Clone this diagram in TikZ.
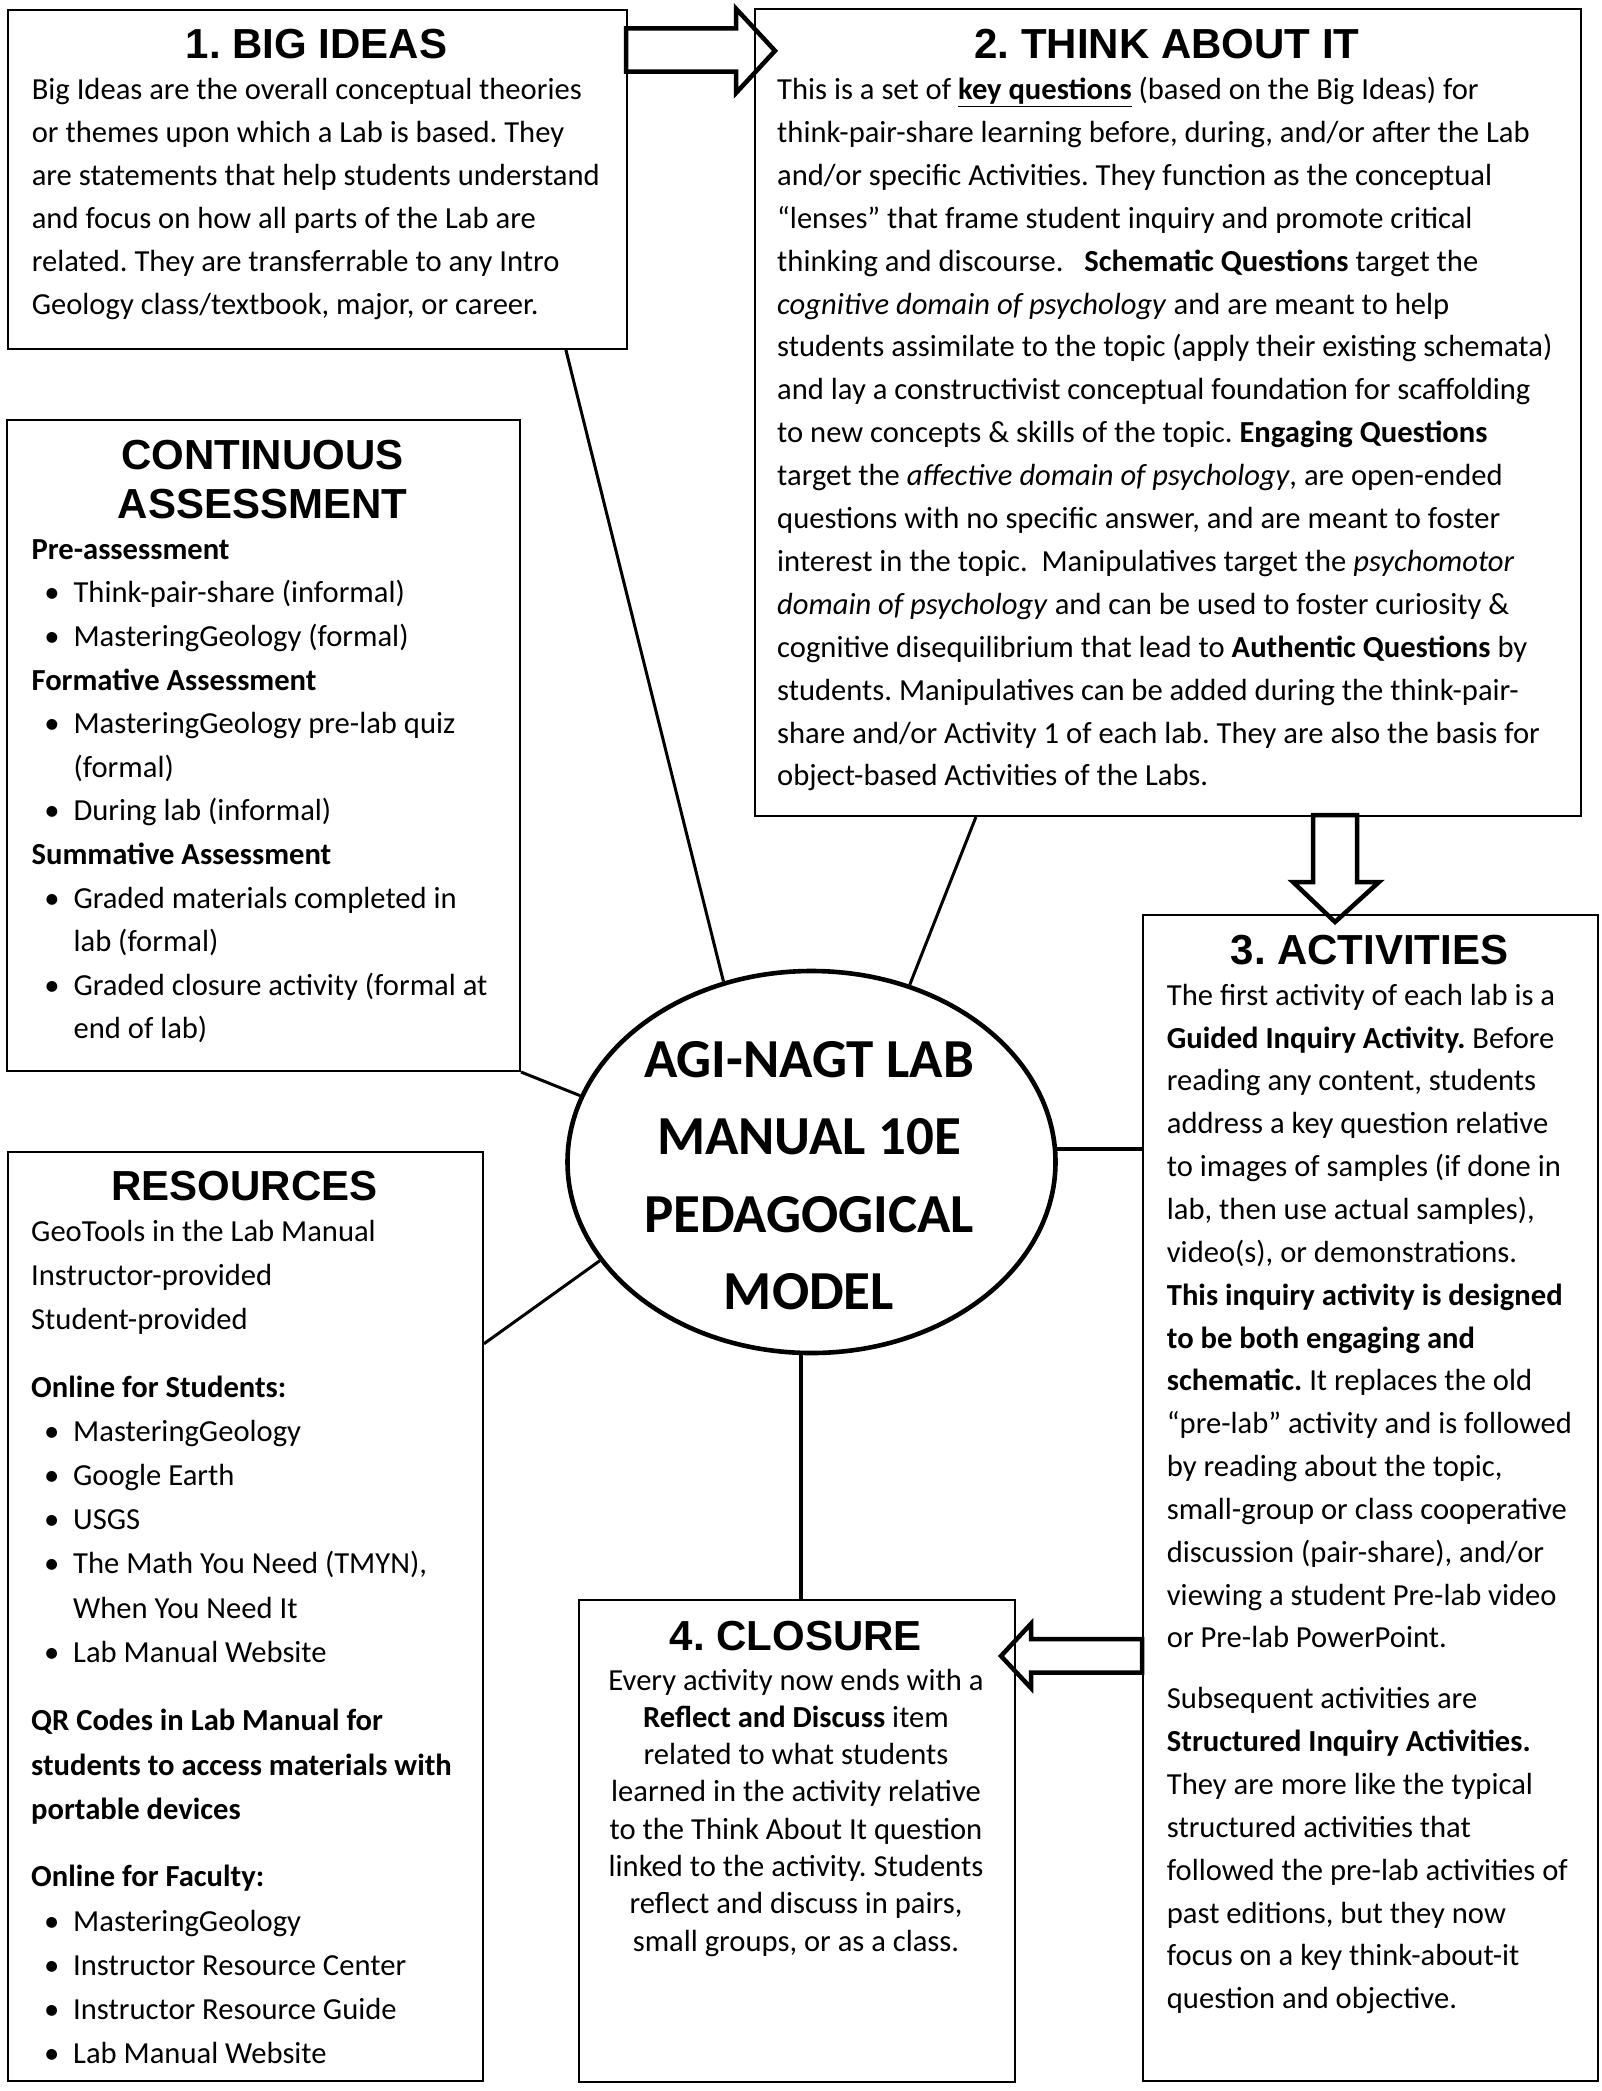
\documentclass[tikz,border=0pt]{standalone}
\usepackage{fontspec}
\setmainfont{Carlito}
\newfontfamily\headfont{Liberation Sans}
\usetikzlibrary{shapes.geometric,calc}
\newcommand\mybul{\hspace*{15.5pt}\makebox[10pt][c]{•}\hspace*{16.5pt}}
\newcommand\myind{\hspace*{42pt}}
\frenchspacing
\begin{document}
\begin{tikzpicture}[x=1pt,y=-1pt,
  box/.style={draw, line width=2pt, rectangle, inner sep=0pt, anchor=north west},
  title/.style={font=\headfont\bfseries\fontsize{42}{49}\selectfont, inner sep=0pt, anchor=base},
  body/.style={font=\fontsize{30.6}{42.9}\selectfont, inner sep=0pt, anchor=north west, align=left},
  conn/.style={line width=3pt},
  thickconn/.style={line width=4.2pt},
  blockarrow/.style={line width=4.5pt, line join=miter}
]
\useasboundingbox (0,0) rectangle (1602,2091);

% boxes
\node[box, minimum width=619pt, minimum height=339pt] (big) at (7,9) {};
\node[box, minimum width=826pt, minimum height=807pt] (think) at (754,8) {};
\node[box, minimum width=513pt, minimum height=651pt] (ca) at (6,419) {};
\node[box, minimum width=475pt, minimum height=929pt] (res) at (7,1151) {};
\node[box, minimum width=455pt, minimum height=1166pt] (act) at (1142,914) {};
\node[box, minimum width=436pt, minimum height=482pt] (clos) at (578,1599) {};

% hub
\node[ellipse, draw, line width=4.6pt, minimum width=488pt, minimum height=382pt, inner sep=0pt] (hub) at (811.5,1162) {};
\node[font=\bfseries\fontsize{55}{77.5}\selectfont, inner sep=0pt, anchor=north, align=center] (hubtxt) at (809,1022.75)
  {\strut AGI-NAGT LAB\\MANUAL 10E\\PEDAGOGICAL\\MODEL};

% titles
\node[title] (bigT) at (316.5,58) {1. BIG IDEAS};
\node[title] (thinkT) at (1167,58.6) {2. THINK ABOUT IT};
\node[title] (caT1) at (262.5,469.4) {CONTINUOUS};
\node[title] (caT2) at (262.5,518.5) {ASSESSMENT};
\node[title] (resT) at (244.5,1200.6) {RESOURCES};
\node[title] (actT) at (1369.5,964.8) {3. ACTIVITIES};
\node[title] (closT) at (796,1650.8) {4. CLOSURE};

% bodies
\node[body] (bigB) at (31.6,69.7) {\strut Big Ideas are the overall conceptual theories\\
or themes upon which a Lab is based. They\\
are statements that help students understand\\
and focus on how all parts of the Lab are\\
related. They are transferrable to any Intro\\
Geology class/textbook, major, or career.};

\node[body] (thinkB) at (777,69.3) {\strut This is a set of \underline{\textbf{key questions}} (based on the Big Ideas) for\\
think-pair-share learning before, during, and/or after the Lab\\
and/or specific Activities. They function as the conceptual\\
“lenses” that frame student inquiry and promote critical\\
thinking and discourse.\ \ \ \textbf{Schematic Questions} target the\\
\textit{cognitive domain of psychology} and are meant to help\\
students assimilate to the topic (apply their existing schemata)\\
and lay a constructivist conceptual foundation for scaffolding\\
to new concepts \& skills of the topic. \textbf{Engaging Questions}\\
target the \textit{affective domain of psychology}, are open-ended\\
questions with no specific answer, and are meant to foster\\
interest in the topic.\ \ Manipulatives target the \textit{psychomotor}\\
\textit{domain of psychology} and can be used to foster curiosity \&\\
cognitive disequilibrium that lead to \textbf{Authentic Questions} by\\
students. Manipulatives can be added during the think-pair-\\
share and/or Activity 1 of each lab. They are also the basis for\\
object-based Activities of the Labs.};

\node[body, font=\fontsize{30.6}{43.6}\selectfont] (caB) at (31.4,528.5) {\strut\textbf{Pre-assessment}\\
\mybul Think-pair-share (informal)\\
\mybul MasteringGeology (formal)\\
\textbf{Formative Assessment}\\
\mybul MasteringGeology pre-lab quiz\\
\myind (formal)\\
\mybul During lab (informal)\\
\textbf{Summative Assessment}\\
\mybul Graded materials completed in\\
\myind lab (formal)\\
\mybul Graded closure activity (formal at\\
\myind end of lab)};

\node[body, font=\fontsize{30.6}{44.2}\selectfont] (resB) at (31,1210) {\strut GeoTools in the Lab Manual\\
Instructor-provided\\
Student-provided\\[23.3pt]
\textbf{Online for Students:}\\
\mybul MasteringGeology\\
\mybul Google Earth\\
\mybul USGS\\
\mybul The Math You Need (TMYN),\\
\myind When You Need It\\
\mybul Lab Manual Website\\[24.5pt]
\textbf{QR Codes in Lab Manual for}\\
\textbf{students to access materials with}\\
\textbf{portable devices}\\[23.3pt]
\textbf{Online for Faculty:}\\
\mybul MasteringGeology\\
\mybul Instructor Resource Center\\
\mybul Instructor Resource Guide\\
\mybul Lab Manual Website};

\node[body, font=\fontsize{30.6}{42.85}\selectfont] (actB) at (1166.7,975) {\strut The first activity of each lab is a\\
\textbf{Guided Inquiry Activity.} Before\\
reading any content, students\\
address a key question relative\\
to images of samples (if done in\\
lab, then use actual samples),\\
video(s), or demonstrations.\\
\textbf{This inquiry activity is designed}\\
\textbf{to be both engaging and}\\
\textbf{schematic.} It replaces the old\\
“pre-lab” activity and is followed\\
by reading about the topic,\\
small-group or class cooperative\\
discussion (pair-share), and/or\\
viewing a student Pre-lab video\\
or Pre-lab PowerPoint.\\[18pt]
Subsequent activities are\\
\textbf{Structured Inquiry Activities.}\\
They are more like the typical\\
structured activities that\\
followed the pre-lab activities of\\
past editions, but they now\\
focus on a key think-about-it\\
question and objective.};

\node[body, font=\fontsize{30.6}{37.3}\selectfont, anchor=north, align=center] (closB) at (796,1663.7) {\strut Every activity now ends with a\\
\textbf{Reflect and Discuss} item\\
related to what students\\
learned in the activity relative\\
to the Think About It question\\
linked to the activity. Students\\
reflect and discuss in pairs,\\
small groups, or as a class.};

% connectors
\draw[conn] ($(big.south west)!0.900!(big.south east)$) -- (hub.116);
\draw[conn] ($(think.south west)!0.268!(think.south east)$) -- (hub.61);
\draw[conn] (ca.south east) -- (hub.164);
\draw[conn] ($(res.north east)!0.207!(res.south east)$) -- (hub.205);
\draw[thickconn] (hub.3) -- (hub.3 -| act.west);
\draw[thickconn] (hub.267) -- (hub.267 |- clos.north);

% block arrows
\draw[blockarrow] (626,28.3) -- (736,28.3) -- (736,8.7) -- (775,50.8) -- (736,93) -- (736,71.7) -- (626,71.7) -- cycle;
\draw[blockarrow] (1313,815) -- (1313,882) -- (1293,882) -- (1335,922) -- (1379,882) -- (1357,882) -- (1357,815) -- cycle;
\draw[blockarrow] (1142,1639) -- (1031,1639) -- (1031,1623.7) -- (1001,1656) -- (1031,1688) -- (1031,1672.7) -- (1142,1672.7) -- cycle;
\end{tikzpicture}
\end{document}
